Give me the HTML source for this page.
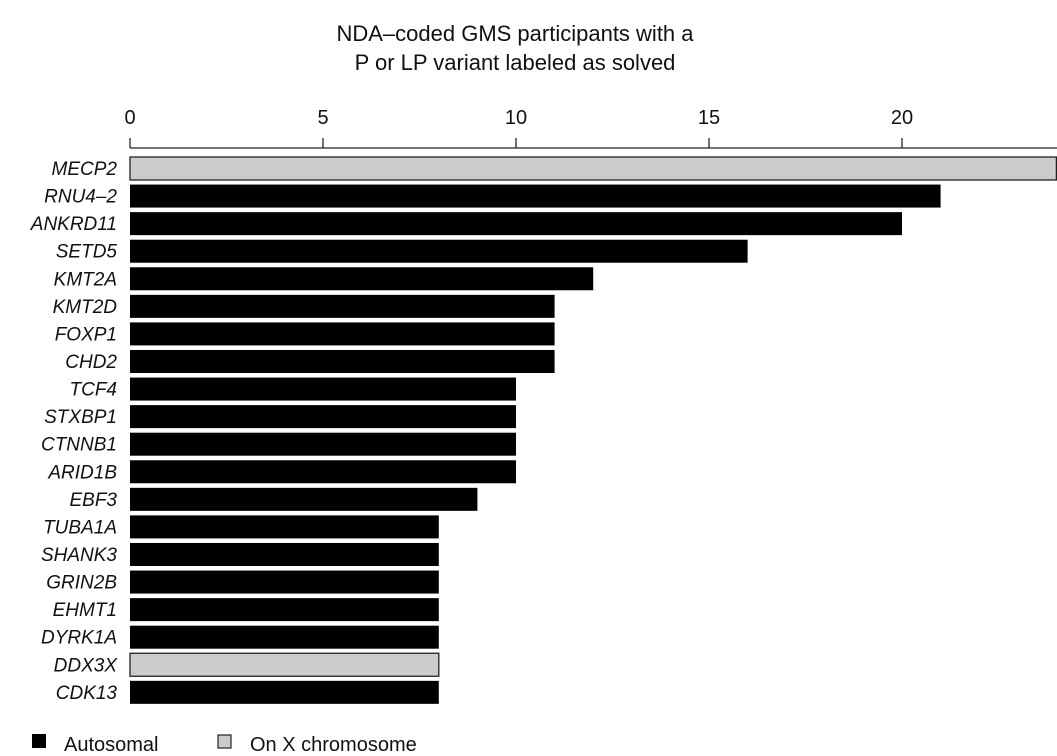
<!DOCTYPE html>
<html><head><meta charset="utf-8"><style>
body{margin:0;background:#fff;}
svg text{font-family:"Liberation Sans",sans-serif;fill:#111;}
</style></head><body>
<svg width="1057" height="751">
<text x="515" y="41" font-size="22" text-anchor="middle">NDA–coded GMS participants with a</text>
<text x="515" y="70" font-size="22" text-anchor="middle">P or LP variant labeled as solved</text>
<g id="axis"></g>
<g id="bars"></g>
<g>
<rect x="32" y="734" width="14" height="14" fill="#000"/>
<text x="64" y="751" font-size="20">Autosomal</text>
<rect x="218" y="735" width="13" height="13" fill="#ccc" stroke="#222" stroke-width="1.2"/>
<text x="250" y="751" font-size="20">On X chromosome</text>
</g>
</svg>
<script>
const genes=["MECP2","RNU4–2","ANKRD11","SETD5","KMT2A","KMT2D","FOXP1","CHD2","TCF4","STXBP1","CTNNB1","ARID1B","EBF3","TUBA1A","SHANK3","GRIN2B","EHMT1","DYRK1A","DDX3X","CDK13"];
const counts=[24,21,20,16,12,11,11,11,10,10,10,10,9,8,8,8,8,8,8,8];
const onX=[1,0,0,0,0,0,0,0,0,0,0,0,0,0,0,0,0,0,1,0];
const ticks=[0,5,10,15,20];
const NS="http://www.w3.org/2000/svg";
const x=v=>130+v*38.6;
const y=i=>157+i*27.57;
const ax=document.getElementById('axis'),bg=document.getElementById('bars');
function mk(tag,attrs,parent){const e=document.createElementNS(NS,tag);for(const k in attrs)e.setAttribute(k,attrs[k]);parent.appendChild(e);return e;}
const line=mk('line',{x1:x(0),x2:x(24)+2,y1:148,y2:148,stroke:'#222','stroke-width':1.3},ax);


ticks.forEach(t=>{
 const l=mk('line',{x1:x(t),x2:x(t),y1:138,y2:148,stroke:'#222','stroke-width':1.3},ax);
 
 
 const tx=mk('text',{x:x(t),y:124,'font-size':20,'text-anchor':'middle'},ax);
 tx.textContent=t;
 
 
});
genes.forEach((g,i)=>{
 const r=mk('rect',{x:x(0),y:y(i),width:x(counts[i])-x(0),height:23,fill:onX[i]?'#ccc':'#000',stroke:onX[i]?'#222':'none','stroke-width':1.3},bg);
 
 
 const t=mk('text',{x:117,y:y(i)+18,'font-size':19,'font-style':'italic','text-anchor':'end'},bg);
 t.textContent=g;
 
 
});
</script>
</body></html>
